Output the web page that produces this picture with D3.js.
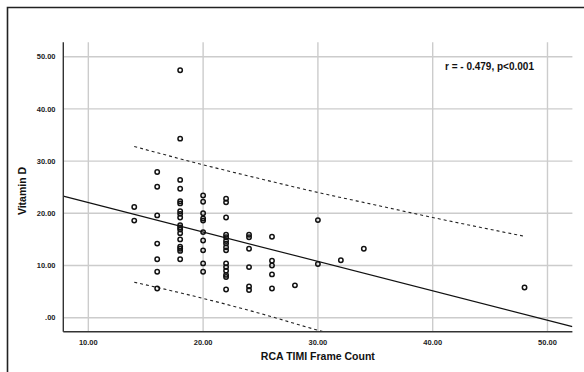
<!DOCTYPE html>
<html>
<head>
<meta charset="utf-8">
<script src="https://cdn.jsdelivr.net/npm/d3@7"></script>
<style>
  html, body { margin: 0; padding: 0; background: #ffffff; overflow: hidden; }
  svg { display: block; font-family: "Liberation Sans", Arial, sans-serif; }
</style>
</head>
<body>
<div id="chart-container"></div>
<script>
// === DATA ===
// RCA TIMI frame count (x) and vitamin D (y), one entry per patient
const frameCount = [
  14, 14,
  16, 16, 16, 16, 16, 16, 16,
  18, 18, 18, 18, 18, 18, 18, 18, 18, 18, 18, 18, 18, 18, 18, 18, 18, 18,
  20, 20, 20, 20, 20, 20, 20, 20, 20, 20,
  22, 22, 22, 22, 22, 22, 22, 22, 22, 22, 22, 22, 22, 22, 22,
  24, 24, 24, 24, 24, 24,
  26, 26, 26, 26, 26,
  28,
  30, 30,
  32,
  34,
  48
];
const vitaminD = [
  21.2, 18.6,
  27.9, 25.1, 19.6, 14.2, 11.2, 8.8, 5.6,
  47.4, 34.3, 26.4, 24.7, 22.3, 21.9, 20.4, 19.9, 19.2, 17.7, 17.3, 16.9, 16.2, 15.0, 13.6, 13.2, 12.8, 11.2,
  23.4, 22.2, 20.0, 19.0, 18.6, 16.4, 14.8, 12.9, 10.4, 8.8,
  22.8, 22.1, 19.2, 15.9, 15.4, 14.7, 14.2, 13.5, 12.9, 10.4, 9.7, 9.0, 8.2, 7.8, 5.4,
  15.9, 15.4, 13.2, 9.7, 6.0, 5.3,
  15.5, 10.9, 10.0, 8.3, 5.6,
  6.2,
  18.7, 10.3,
  11.0,
  13.2,
  5.8
];

// fit line (end points)
const fitX = [7.82, 52.17];
const fitY = [23.3, -1.72];

// prediction interval, read at a few x positions
const upperX = [14, 20, 25, 30, 35, 40, 48];
const upperY = [32.8, 29.3, 26.6, 24.0, 21.6, 19.2, 15.6];
const lowerX = [14, 20, 25, 30, 31];
const lowerY = [6.8, 3.7, 0.8, -2.4, -3.0];

const xTicks = [10, 20, 30, 40, 50];
const yTicks = [0, 10, 20, 30, 40, 50];
const annotation = "r = - 0.479, p<0.001";

// === LAYOUT ===
const width = 584;
const height = 372;
const plot = { left: 63.3, right: 572.4, top: 42.3, bottom: 331.7 };

const svg = d3
  .select("#chart-container")
  .append("svg")
  .attr("width", width)
  .attr("height", height);

// outer frame: only the top and left edges are inside the picture
svg
  .append("path")
  .attr("d", `M7.5,${height} V7.5 H${width}`)
  .attr("fill", "none")
  .attr("stroke", "#222")
  .attr("stroke-width", 1.6);

const xScale = d3.scaleLinear().domain([7.82, 52.17]).range([plot.left, plot.right]);
const yScale = d3.scaleLinear().domain([-2.68, 52.76]).range([plot.bottom, plot.top]);

svg
  .append("defs")
  .append("clipPath")
  .attr("id", "plot-clip")
  .append("rect")
  .attr("x", plot.left)
  .attr("y", plot.top)
  .attr("width", plot.right - plot.left)
  .attr("height", plot.bottom - plot.top);

// gridlines
svg
  .append("g")
  .selectAll("line")
  .data(xTicks)
  .enter()
  .append("line")
  .attr("x1", (d) => xScale(d))
  .attr("x2", (d) => xScale(d))
  .attr("y1", plot.top)
  .attr("y2", plot.bottom)
  .attr("stroke", "#cccccc")
  .attr("stroke-width", 1.4);

svg
  .append("g")
  .selectAll("line")
  .data(yTicks)
  .enter()
  .append("line")
  .attr("x1", plot.left)
  .attr("x2", plot.right)
  .attr("y1", (d) => yScale(d))
  .attr("y2", (d) => yScale(d))
  .attr("stroke", "#cccccc")
  .attr("stroke-width", 1.4);

// lines
const lineGenerator = d3
  .line()
  .x((d) => xScale(d[0]))
  .y((d) => yScale(d[1]))
  .curve(d3.curveMonotoneX);

const lines = svg.append("g").attr("clip-path", "url(#plot-clip)");

lines
  .append("path")
  .attr("d", lineGenerator(d3.zip(fitX, fitY)))
  .attr("fill", "none")
  .attr("stroke", "#111")
  .attr("stroke-width", 1.2);

[d3.zip(upperX, upperY), d3.zip(lowerX, lowerY)].forEach((pts) => {
  lines
    .append("path")
    .attr("d", lineGenerator(pts))
    .attr("fill", "none")
    .attr("stroke", "#222")
    .attr("stroke-width", 1.1)
    .attr("stroke-dasharray", "3,3");
});

// points
svg
  .append("g")
  .selectAll("circle")
  .data(d3.zip(frameCount, vitaminD))
  .enter()
  .append("circle")
  .attr("cx", (d) => xScale(d[0]))
  .attr("cy", (d) => yScale(d[1]))
  .attr("r", 2.2)
  .attr("fill", "none")
  .attr("stroke", "#111")
  .attr("stroke-width", 1.5);

// axis lines
svg
  .append("line")
  .attr("x1", plot.left)
  .attr("x2", plot.left)
  .attr("y1", plot.top)
  .attr("y2", plot.bottom)
  .attr("stroke", "#333")
  .attr("stroke-width", 1.4);

svg
  .append("line")
  .attr("x1", plot.left)
  .attr("x2", plot.right)
  .attr("y1", plot.bottom)
  .attr("y2", plot.bottom)
  .attr("stroke", "#333")
  .attr("stroke-width", 1.4);

// tick labels
const fmt = (d) => (d === 0 ? ".00" : d3.format(".2f")(d));

svg
  .append("g")
  .selectAll("text")
  .data(xTicks)
  .enter()
  .append("text")
  .attr("x", (d) => xScale(d))
  .attr("y", 345)
  .attr("text-anchor", "middle")
  .style("font-size", "7.5px")
  .style("font-weight", "bold")
  .style("fill", "#222")
  .text(fmt);

svg
  .append("g")
  .selectAll("text")
  .data(yTicks)
  .enter()
  .append("text")
  .attr("x", 55.5)
  .attr("y", (d) => yScale(d) + 2.7)
  .attr("text-anchor", "end")
  .style("font-size", "7.5px")
  .style("font-weight", "bold")
  .style("fill", "#222")
  .text(fmt);

// axis titles
svg
  .append("text")
  .attr("x", (plot.left + plot.right) / 2)
  .attr("y", 360)
  .attr("text-anchor", "middle")
  .style("font-size", "10.5px")
  .style("font-weight", "bold")
  .style("fill", "#111")
  .text("RCA TIMI Frame Count");

svg
  .append("text")
  .attr("transform", `translate(26,${(plot.top + plot.bottom) / 2 + 4}) rotate(-90)`)
  .attr("text-anchor", "middle")
  .style("font-size", "10.5px")
  .style("font-weight", "bold")
  .style("fill", "#111")
  .text("Vitamin D");

// correlation note
svg
  .append("text")
  .attr("x", 445)
  .attr("y", 70)
  .style("font-size", "10px")
  .style("font-weight", "bold")
  .style("fill", "#111")
  .text(annotation);
</script>
</body>
</html>
